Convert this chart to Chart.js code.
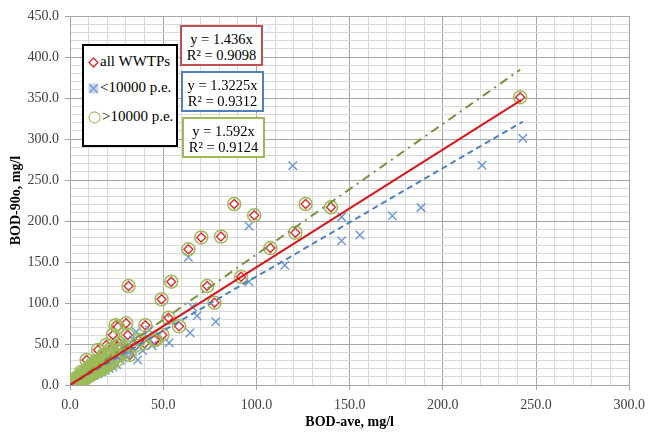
<!DOCTYPE html>
<html>
<head>
<meta charset="utf-8">
<script src="https://cdn.jsdelivr.net/npm/chart.js@4/dist/chart.umd.min.js"></script>
<style>
body { margin: 0; background: #fff; }
#wrap { position: relative; width: 652px; height: 436px; font-family: "Liberation Serif", "Times New Roman", serif; }
.box { position: absolute; background: #fff; box-sizing: border-box; font-size: 14.5px; line-height: 16px; text-align: center; padding-top: 4px; white-space: nowrap; }
#legend { position: absolute; left: 82px; top: 44px; width: 96px; height: 103px; border: 2px solid #000; background: #fff; box-sizing: border-box; font-size: 15px; }
.row { position: absolute; left: 4px; height: 18px; line-height: 18px; white-space: nowrap; }
.row svg { vertical-align: middle; margin-right: 1px; }
</style>
</head>
<body>
<div id="wrap">
<canvas id="chart" width="652" height="436"></canvas>
<div id="legend">
	<div class="row" style="top:6px"><svg width="11" height="11"><path d="M5.5 1 L10 5.5 L5.5 10 L1 5.5 Z" fill="none" stroke="#e0282e" stroke-width="1.3"/></svg>all WWTPs</div>
	<div class="row" style="top:32px"><svg width="11" height="11"><rect x="0.5" y="0.5" width="10" height="10" fill="#c6d6ec"/><path d="M1.5 1.5 L9.5 9.5 M9.5 1.5 L1.5 9.5" stroke="#6f9bd6" stroke-width="1.4"/></svg>&lt;10000 p.e.</div>
	<div class="row" style="top:61px"><svg width="13" height="13"><circle cx="6.5" cy="6.5" r="5.5" fill="none" stroke="#a9c97a" stroke-width="1.3"/></svg>&gt;10000 p.e.</div>
</div>
<div class="box" style="left:180px;top:25px;width:83px;height:41px;border:2px solid #c0504d">y = 1.436x<br>R² = 0.9098</div>
<div class="box" style="left:181px;top:71px;width:83px;height:41px;border:2px solid #4f81bd">y = 1.3225x<br>R² = 0.9312</div>
<div class="box" style="left:182px;top:117px;width:83px;height:41px;border:2px solid #9bbb59">y = 1.592x<br>R² = 0.9124</div>
</div>
<script>
/* >10000 p.e. plants: BOD-ave and BOD-90o */
var bigX = [0.5,0.8,1.0,1.2,1.5,1.8,2.0,2.2,2.5,2.7,3.0,3.2,3.5,3.8,4.0,4.2,4.5,4.8,5.0,5.2,5.5,5.8,6.0,6.3,6.5,6.8,7.0,7.2,7.5,7.8,8.0,8.2,8.5,8.8,9.0,9.3,9.5,9.8,10.0,10.3,10.6,11.0,11.2,11.5,12.0,12.2,12.5,13.0,13.2,13.5,14.0,14.3,14.6,15.0,15.3,15.6,16.0,16.4,16.8,17.2,17.5,18.0,18.4,18.8,19.2,19.8,20.2,20.8,21.5,22.0,22.5,23.5,24.0,25.0,26.0,27.0,28.5,30.0,8.9,15.0,19.5,26.6,23.0,31.0,24.5,30.1,32.0,25.7,40.4,46.0,45.2,49.6,40.0,12.0,6.0,35.0,37.0,
	3.0,5.5,7.5,9.5,11.5,13.5,15.5,17.5,19.5,21.0,2.0,4.0,6.0,10.0,14.0,18.0,22.0,25.5,
	31.4,49.1,54.3,52.8,58.5,63.5,70.4,81.0,73.6,77.5,88.1,91.8,98.8,107.5,120.9,126.4,140.0,241.5];
var bigY = [0.8,1.5,0.5,2.2,1.2,3.0,1.8,2.6,4.2,3.1,2.2,5.0,3.8,6.0,4.5,3.2,7.2,5.6,8.5,4.6,6.8,9.6,7.5,5.8,10.8,8.6,12.2,6.9,9.8,13.5,11.0,8.0,14.8,12.1,9.2,16.0,13.3,10.5,17.5,14.2,11.8,19.0,15.5,12.8,20.5,16.8,14.0,22.0,18.0,15.2,23.8,19.5,16.5,25.5,21.0,17.8,27.0,22.5,19.2,28.8,24.0,20.5,31.0,26.0,22.5,33.5,28.0,24.5,36.0,30.5,27.0,39.0,33.0,30.0,42.0,36.5,45.0,40.0,30.5,42.7,48.8,50.8,61.0,61.0,73.0,75.2,36.6,71.0,73.0,55.0,54.9,61.0,51.0,26.0,16.0,48.0,55.0,
	8.0,11.0,15.0,19.0,23.0,27.0,30.0,34.0,38.0,41.0,6.0,9.0,13.0,21.0,29.0,37.0,44.0,47.0,
	120.7,104.5,126.0,82.0,71.5,165.5,180.0,181.0,120.7,100.4,220.7,132.0,207.0,167.0,185.8,220.7,216.7,351.0];

/* <10000 p.e. plants */
var smallX = [1,2,3,4,5,6,7,8,9,10,11,12,13,14,15,16,17,18,19,20,21,22,23,24,25,26,27,28,30,33,20,24,28,31,34,39,42,44,
	63.5,96.0,96.0,65.6,68.2,78.2,64.4,53.2,119.5,115.2,145.7,145.7,155.5,172.9,188.3,221.0,242.9,35.5,42.5,36.3,37.2];
var smallY = [1,2.5,3,5,4,7,6,9,8,11,10,13,12,15,14,18,16,20,18,23,20,26,22,29,25,40,30,33,35,38,35,45,52,42,55,42,58,48,
	155.7,194.0,126.0,95.5,84.5,77.2,63.8,51.6,267.5,146.0,205.0,176.0,183.0,206.5,216.3,268.0,300.8,65.0,67.0,30.5,46.7];

/* trend lines: y = a*x, drawn up to the largest x of each group */
var trendNames = ["all WWTPs", "<10000 p.e.", ">10000 p.e."];
var trendSlopes = [1.436, 1.3225, 1.592];
var trendEnds = [242, 242.9, 241.5];

var xTicks = [0, 50, 100, 150, 200, 250, 300];
var yTicks = [0, 50, 100, 150, 200, 250, 300, 350, 400, 450];

function toPoints(xs, ys) {
	var pts = [];
	for (var i = 0; i < xs.length; i++) {
		pts.push({x: xs[i], y: ys[i]});
	}
	return pts;
}

function trendLine(i) {
	return [{x: 0, y: 0}, {x: trendEnds[i], y: trendSlopes[i] * trendEnds[i]}];
}

var serif = "'Liberation Serif', 'Times New Roman', serif";
var allPoints = toPoints(bigX, bigY).concat(toPoints(smallX, smallY));

function isMajor(ctx) {
	return ctx.tick && ctx.tick.value % 50 === 0;
}

function drawChart() {
	new Chart(document.getElementById("chart"), {
		type: 'scatter',
		data: {
			datasets: [
				{ label: trendNames[0], data: trendLine(0), showLine: true, borderColor: '#d9161b', borderWidth: 2, pointRadius: 0 },
				{ label: trendNames[1], data: trendLine(1), showLine: true, borderColor: '#4f81bd', borderWidth: 2, borderDash: [6, 4], pointRadius: 0 },
				{ label: trendNames[2], data: trendLine(2), showLine: true, borderColor: '#77933c', borderWidth: 2, borderDash: [9, 5, 2, 5], pointRadius: 0 },
				{ label: '>10000 p.e.', data: toPoints(bigX, bigY), pointStyle: 'circle', pointRadius: 6.5, borderColor: '#9bbb59', borderWidth: 1.5, backgroundColor: 'rgba(0,0,0,0)' },
				{ label: '<10000 p.e.', data: toPoints(smallX, smallY), pointStyle: 'crossRot', pointRadius: 6, borderColor: '#6f9bd6', borderWidth: 1.5 },
				{ label: 'all WWTPs', data: allPoints, pointStyle: 'rectRot', borderColor: '#e0282e', borderWidth: 1.4, backgroundColor: '#fff',
					pointRadius: function(c) { return c.dataIndex < bigX.length ? 4.5 : 0; } }
			]
		},
		options: {
			responsive: false,
			animation: false,
			devicePixelRatio: 1,
			layout: { padding: { top: 16, right: 18, left: 0, bottom: 0 } },
			plugins: { legend: { display: false }, tooltip: { enabled: false } },
			scales: {
				x: {
					min: 0, max: 300,
					afterFit: function(s) { s.height = 51; },
					ticks: {
						stepSize: 10, autoSkip: false, maxRotation: 0, padding: 7,
						color: '#404040', font: { family: serif, size: 14 },
						callback: function(v) { return xTicks.indexOf(v) >= 0 ? v.toFixed(1) : ''; }
					},
					grid: {
						color: function(c) { return isMajor(c) ? '#a6a6a6' : '#d9d9d9'; },
						tickColor: function(c) { return isMajor(c) ? '#a6a6a6' : 'rgba(0,0,0,0)'; },
						tickLength: 5
					},
					border: { color: '#a6a6a6' },
					title: { display: true, text: 'BOD-ave, mg/l', color: '#000', font: { family: serif, size: 14, weight: 'bold' }, padding: { top: 2, bottom: 5 } }
				},
				y: {
					min: 0, max: 450,
					afterFit: function(s) { s.width = 70; },
					ticks: {
						stepSize: 10, autoSkip: false, padding: 6,
						color: '#404040', font: { family: serif, size: 14 },
						callback: function(v) { return yTicks.indexOf(v) >= 0 ? v.toFixed(1) : ''; }
					},
					grid: {
						color: function(c) { return isMajor(c) ? '#a6a6a6' : '#d9d9d9'; },
						tickColor: function(c) { return isMajor(c) ? '#a6a6a6' : 'rgba(0,0,0,0)'; },
						tickLength: 5
					},
					border: { color: '#a6a6a6' },
					title: { display: true, text: 'BOD-90o, mg/l', color: '#000', font: { family: serif, size: 14, weight: 'bold' }, padding: { top: 8, bottom: 4 } }
				}
			}
		}
	});
}

Promise.all([
	document.fonts.load("14px 'Liberation Serif'"),
	document.fonts.load("bold 14px 'Liberation Serif'")
]).then(drawChart, drawChart);
</script>
</body>
</html>
